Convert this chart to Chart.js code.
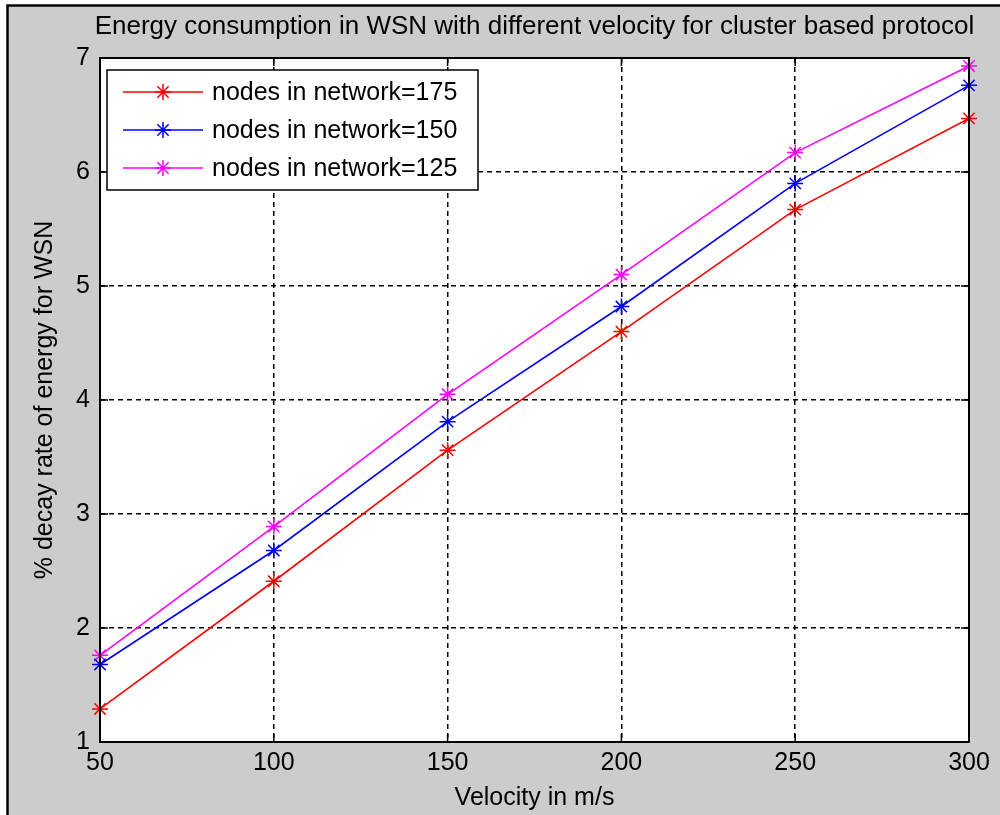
<!DOCTYPE html>
<html>
<head>
<meta charset="utf-8">
<script src="https://cdn.jsdelivr.net/npm/chart.js@4"></script>
<style>
  html, body { margin: 0; padding: 0; background: #fff; }
  #c { display: block; }
</style>
</head>
<body>
<canvas id="c" width="1000" height="815"></canvas>
<script>
// velocity (m/s) on x, % decay rate of energy on y
const velocities = [50, 100, 150, 200, 250, 300];
const nodes175 = [1.29, 2.41, 3.56, 4.60, 5.67, 6.47];
const nodes150 = [1.68, 2.68, 3.81, 4.82, 5.90, 6.76];
const nodes125 = [1.76, 2.89, 4.05, 5.10, 6.17, 6.93];
const seriesLabels = ['nodes in network=175', 'nodes in network=150', 'nodes in network=125'];
const seriesColors = ['#ff0000', '#0000ff', '#ff00ff'];
const titleText = 'Energy consumption in WSN with different velocity for cluster based protocol';
const xTitle = 'Velocity in m/s';
const yTitle = '% decay rate of energy for WSN';

const FONT = '"Liberation Sans", Arial, Helvetica, sans-serif';
const FS = 25;

function toPoints(ys){ return velocities.map((v,i)=>({x:v, y:ys[i]})); }

function drawStar(ctx, x, y, r){
    ctx.beginPath();
    for(let k=0;k<4;k++){
        const a = k*Math.PI/4;
        const dx = Math.cos(a)*r, dy = Math.sin(a)*r;
        ctx.moveTo(x-dx, y-dy); ctx.lineTo(x+dx, y+dy);
    }
    ctx.stroke();
}

// figure background (gray panel with black left/top edge like the screenshot)
const figureBg = {
    id: 'figureBg',
    beforeDraw(chart){
        const ctx = chart.ctx, W = chart.width, H = chart.height;
        ctx.save();
        ctx.fillStyle = '#ffffff'; ctx.fillRect(0,0,W,H);
        ctx.fillStyle = '#cccccc'; ctx.fillRect(7,5,W-7,H-5);
        ctx.strokeStyle = '#000'; ctx.lineWidth = 2.5;
        ctx.beginPath(); ctx.moveTo(7.5,H); ctx.lineTo(7.5,5.5); ctx.lineTo(W,5.5); ctx.stroke();
        const a = chart.chartArea;
        ctx.fillStyle = '#ffffff'; ctx.fillRect(a.left, a.top, a.right-a.left, a.bottom-a.top);
        ctx.restore();
    }
};

// axes box, inward ticks, title, legend (MATLAB look)
const matlabAxes = {
    id: 'matlabAxes',
    afterDraw(chart){
        const ctx = chart.ctx, a = chart.chartArea;
        const xs = chart.scales.x, ys = chart.scales.y;
        ctx.save();
        ctx.strokeStyle = '#000'; ctx.lineWidth = 2;
        ctx.strokeRect(a.left, a.top, a.right-a.left, a.bottom-a.top);
        ctx.lineWidth = 1.5;
        const tl = 8;
        ctx.beginPath();
        xs.ticks.forEach(t=>{
            const px = xs.getPixelForValue(t.value);
            ctx.moveTo(px, a.bottom); ctx.lineTo(px, a.bottom-tl);
            ctx.moveTo(px, a.top); ctx.lineTo(px, a.top+tl);
        });
        ys.ticks.forEach(t=>{
            const py = ys.getPixelForValue(t.value);
            ctx.moveTo(a.left, py); ctx.lineTo(a.left+tl, py);
            ctx.moveTo(a.right, py); ctx.lineTo(a.right-tl, py);
        });
        ctx.stroke();

        // title centred on the axes
        ctx.fillStyle = '#000';
        ctx.font = '26px ' + FONT;
        ctx.textAlign = 'center'; ctx.textBaseline = 'middle';
        ctx.fillText(titleText, (a.left+a.right)/2, 27);

        // legend box
        ctx.font = FS + 'px ' + FONT;
        const lx = 107, ly = 70, lw = 371, lh = 120;
        ctx.fillStyle = '#fff';
        ctx.fillRect(lx, ly, lw, lh);
        ctx.strokeStyle = '#000'; ctx.lineWidth = 1.5;
        ctx.strokeRect(lx, ly, lw, lh);
        chart.data.datasets.forEach((ds, i)=>{
            const ry = 92 + i*38;
            ctx.strokeStyle = ds.borderColor; ctx.lineWidth = 1.5;
            ctx.beginPath(); ctx.moveTo(123, ry); ctx.lineTo(203, ry); ctx.stroke();
            drawStar(ctx, 163, ry, 8);
            ctx.fillStyle = '#000';
            ctx.textAlign = 'left'; ctx.textBaseline = 'middle';
            ctx.fillText(ds.label, 212, ry+1);
        });
        ctx.restore();
    }
};

const datasets = [nodes175, nodes150, nodes125].map((ys, i)=>({
    label: seriesLabels[i],
    data: toPoints(ys),
    borderColor: seriesColors[i],
    backgroundColor: seriesColors[i],
    borderWidth: 1.6,
    pointStyle: 'star',
    pointRadius: 8,
    pointBorderWidth: 1.5,
    pointBorderColor: seriesColors[i],
    tension: 0,
    clip: false
}));

new Chart(document.getElementById('c'), {
    type: 'line',
    data: { datasets },
    options: {
        responsive: false,
        animation: false,
        layout: { padding: { left: 8, top: 58, right: 31, bottom: 0 } },
        plugins: { legend: { display: false }, title: { display: false }, tooltip: { enabled: false } },
        scales: {
            x: {
                type: 'linear', min: 50, max: 300,
                ticks: { stepSize: 50, color: '#000', padding: 6, autoSkip: false, maxRotation: 0, font: { family: FONT, size: FS } },
                grid: { color: '#000', lineWidth: 1.5, drawTicks: false },
                border: { display: false, dash: [5, 4] },
                title: { display: true, text: xTitle, color: '#000', font: { family: FONT, size: FS }, padding: { top: 0, bottom: 2 } },
                afterFit(s){ s.height = 73; }
            },
            y: {
                min: 1, max: 7,
                ticks: { stepSize: 1, color: '#000', padding: 10, font: { family: FONT, size: FS } },
                grid: { color: '#000', lineWidth: 1.5, drawTicks: false },
                border: { display: false, dash: [5, 4] },
                title: { display: true, text: yTitle, color: '#000', font: { family: FONT, size: FS }, padding: { top: 22, bottom: 0 } },
                afterFit(s){ s.width = 92; }
            }
        }
    },
    plugins: [figureBg, matlabAxes]
});
</script>
</body>
</html>
